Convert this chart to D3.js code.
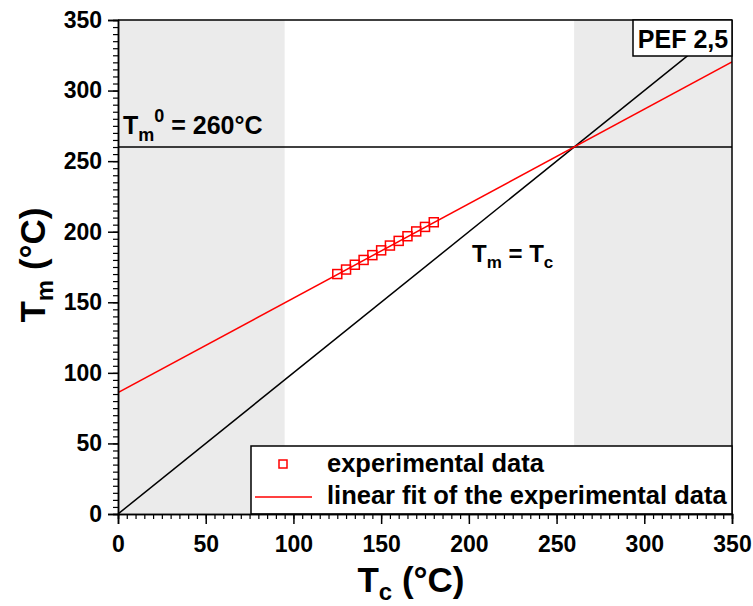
<!DOCTYPE html>
<html>
<head>
<meta charset="utf-8">
<script src="https://cdn.jsdelivr.net/npm/d3@7"></script>
<style>
  body { margin: 0; background: #fff; }
  svg { display: block; font-family: Arial, "Liberation Sans", sans-serif; font-weight: bold; }
</style>
</head>
<body>
<svg id="chart" width="753" height="606"></svg>
<script>
// Crystallization temperatures Tc (°C) and measured melting temperatures Tm (°C)
const tcValues = [125, 130, 135, 140, 145, 150, 155, 160, 165, 170, 175, 180];
const tmValues = [170.0, 173.2, 176.6, 180.0, 183.4, 186.8, 190.2, 193.5, 196.8, 200.2, 203.4, 206.7];

// Linear fit Tm = a + b*Tc, meets Tm = Tc at the equilibrium melting point
const fitIntercept = 86.0;
const equilibriumTm = 260;
const fitSlope = (equilibriumTm - fitIntercept) / equilibriumTm;

// Shaded Tc ranges
const shadedRanges = [[0, 95], [260, 350]];

const xTicks = [0, 50, 100, 150, 200, 250, 300, 350];
const yTicks = [0, 50, 100, 150, 200, 250, 300, 350];
const legendLabels = ["experimental data", "linear fit of the experimental data"];

const margin = { left: 118, right: 21, top: 20, bottom: 92 };
const W = 753, H = 606;
const svg = d3.select("#chart");

const x = d3.scaleLinear().domain([0, 350]).range([margin.left, W - margin.right]);
const y = d3.scaleLinear().domain([0, 350]).range([H - margin.bottom, margin.top]);

svg.append("defs").append("clipPath").attr("id", "plotClip")
  .append("rect")
  .attr("x", x(0)).attr("y", y(350))
  .attr("width", x(350) - x(0)).attr("height", y(0) - y(350));

// shaded bands
svg.append("g").selectAll("rect").data(shadedRanges).join("rect")
  .attr("x", d => x(d[0]))
  .attr("y", y(350))
  .attr("width", d => x(d[1]) - x(d[0]))
  .attr("height", y(0) - y(350))
  .attr("fill", "#ebebeb");

const plot = svg.append("g").attr("clip-path", "url(#plotClip)");

// Tm = Tm0 horizontal line
plot.append("line")
  .attr("x1", x(0)).attr("x2", x(350))
  .attr("y1", y(equilibriumTm)).attr("y2", y(equilibriumTm))
  .attr("stroke", "#000").attr("stroke-width", 1.5);

// Tm = Tc diagonal
plot.append("line")
  .attr("x1", x(0)).attr("y1", y(0))
  .attr("x2", x(350)).attr("y2", y(350))
  .attr("stroke", "#000").attr("stroke-width", 1.5);

// linear fit
const fitLine = d3.line().x(d => x(d)).y(d => y(fitIntercept + fitSlope * d));
plot.append("path")
  .datum([0, 350])
  .attr("d", fitLine)
  .attr("fill", "none").attr("stroke", "#ff0000").attr("stroke-width", 1.5);

// experimental points
const sq = 9;
plot.append("g").selectAll("rect").data(tcValues).join("rect")
  .attr("x", (d) => x(d) - sq / 2)
  .attr("y", (d, i) => y(tmValues[i]) - sq / 2)
  .attr("width", sq).attr("height", sq)
  .attr("fill", "none").attr("stroke", "#ff0000").attr("stroke-width", 1.5);

// frame (top and right)
svg.append("line").attr("x1", x(0)).attr("x2", x(350)).attr("y1", y(350)).attr("y2", y(350))
  .attr("stroke", "#000").attr("stroke-width", 1.5);
svg.append("line").attr("x1", x(350)).attr("x2", x(350)).attr("y1", y(0)).attr("y2", y(350))
  .attr("stroke", "#000").attr("stroke-width", 1.5);

// legend
const lg = svg.append("g");
lg.append("rect")
  .attr("x", 251).attr("y", 446)
  .attr("width", x(350) - 251).attr("height", y(0) - 446)
  .attr("fill", "#fff").attr("stroke", "#000").attr("stroke-width", 1.5);
lg.append("rect")
  .attr("x", 283 - 4).attr("y", 464 - 4).attr("width", 8).attr("height", 8)
  .attr("fill", "none").attr("stroke", "#ff0000").attr("stroke-width", 1.5);
lg.append("line")
  .attr("x1", 255).attr("x2", 312).attr("y1", 497).attr("y2", 497)
  .attr("stroke", "#ff0000").attr("stroke-width", 1.5);
lg.selectAll("text").data(legendLabels).join("text")
  .attr("x", 327)
  .attr("y", (d, i) => 472 + i * 32)
  .attr("font-size", 25.5)
  .text(d => d);

// axes
const minorX = d3.range(0, 351, 5);
const minorY = d3.range(0, 351, 5);

const xAxisG = svg.append("g").attr("transform", `translate(0,${y(0)})`);
xAxisG.call(d3.axisBottom(x).tickValues(minorX).tickSize(5).tickFormat(""));
xAxisG.call(g => g.selectAll(".tick line").attr("stroke-width", 1.2));
const xMajor = svg.append("g").attr("transform", `translate(0,${y(0)})`)
  .call(d3.axisBottom(x).tickValues(xTicks).tickSize(10).tickPadding(12));
xMajor.selectAll(".tick line").attr("stroke-width", 1.5);
xMajor.selectAll(".tick text").attr("font-size", 23).attr("font-weight", "bold").attr("fill", "#000")
  .attr("font-family", "Arial, 'Liberation Sans', sans-serif");
xMajor.select(".domain").attr("stroke-width", 1.5);

const yAxisG = svg.append("g").attr("transform", `translate(${x(0)},0)`);
yAxisG.call(d3.axisLeft(y).tickValues(minorY).tickSize(5).tickFormat(""));
yAxisG.call(g => g.selectAll(".tick line").attr("stroke-width", 1.2));
const yMajor = svg.append("g").attr("transform", `translate(${x(0)},0)`)
  .call(d3.axisLeft(y).tickValues(yTicks).tickSize(10).tickPadding(6));
yMajor.selectAll(".tick line").attr("stroke-width", 1.5);
yMajor.selectAll(".tick text").attr("font-size", 23).attr("font-weight", "bold").attr("fill", "#000")
  .attr("font-family", "Arial, 'Liberation Sans', sans-serif");
yMajor.select(".domain").attr("stroke-width", 1.5);
[xAxisG, yAxisG].forEach(g => g.select(".domain").attr("stroke-width", 1.5));

// axis titles
const xt = svg.append("text").attr("x", 411).attr("y", 592).attr("text-anchor", "middle").attr("font-size", 35);
xt.append("tspan").text("T");
xt.append("tspan").attr("font-size", 24).attr("dy", 8).text("c");
xt.append("tspan").attr("dy", -8).text(" (°C)");

const yt = svg.append("text")
  .attr("transform", `translate(45,${y(175) - 2}) rotate(-90)`)
  .attr("text-anchor", "middle").attr("font-size", 35);
yt.append("tspan").text("T");
yt.append("tspan").attr("font-size", 24).attr("dy", 8).text("m");
yt.append("tspan").attr("dy", -8).text(" (°C)");

// annotations
const a1 = svg.append("text").attr("x", 123).attr("y", 134).attr("font-size", 25);
a1.append("tspan").text("T");
a1.append("tspan").attr("font-size", 18).attr("dy", 7).text("m");
a1.append("tspan").attr("font-size", 18).attr("dy", -19).text("0");
a1.append("tspan").attr("dy", 12).text(" = 260°C");

const a2 = svg.append("text").attr("x", 472).attr("y", 262).attr("font-size", 24);
a2.append("tspan").text("T");
a2.append("tspan").attr("font-size", 17).attr("dy", 6).text("m");
a2.append("tspan").attr("dy", -6).text(" = T");
a2.append("tspan").attr("font-size", 17).attr("dy", 6).text("c");

// sample label box
svg.append("rect").attr("x", 633).attr("y", y(350)).attr("width", x(350) - 633).attr("height", 36)
  .attr("fill", "#fff").attr("stroke", "#000").attr("stroke-width", 1.5);
svg.append("text").attr("x", 683).attr("y", 48).attr("text-anchor", "middle").attr("font-size", 25).text("PEF 2,5");
</script>
</body>
</html>
